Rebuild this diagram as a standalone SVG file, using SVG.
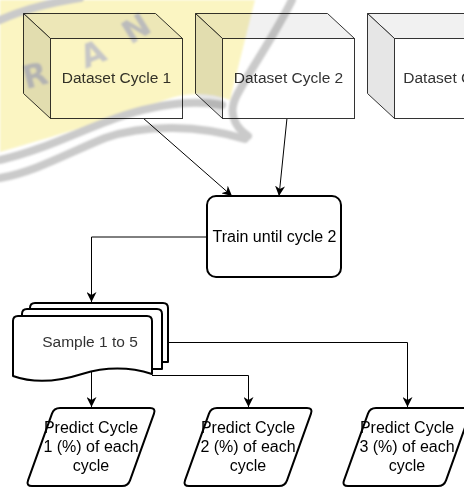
<svg xmlns="http://www.w3.org/2000/svg" width="464" height="488" viewBox="0 0 464 488">
  <defs>
    <style>
      .cube-front { fill: #ffffff; stroke: #333333; stroke-width: 1; }
      .cube-top { fill: #f1f1f1; stroke: #333333; stroke-width: 1; stroke-linejoin: round; }
      .cube-side { fill: #e6e6e6; stroke: #333333; stroke-width: 1; stroke-linejoin: round; }
      .shape { fill: #ffffff; stroke: #000000; stroke-width: 2; stroke-linejoin: round; }
      .sheet { fill: none; stroke: #000000; stroke-width: 2; stroke-linejoin: round; }
      .edge { fill: none; stroke: #000000; stroke-width: 1; }
      .label { font-family: "Liberation Sans", Arial, sans-serif; font-size: 16px; fill: #000000; text-anchor: middle; }
      .ds { font-size: 15.5px; fill: #333333; }
      .mark { mix-blend-mode: multiply; }
      .band { fill: none; stroke: #cacaca; stroke-width: 8; stroke-linecap: round; }
      .glyph { font-family: "DejaVu Sans", sans-serif; font-weight: bold; font-size: 32px; fill: #c6c6c6; text-anchor: middle; }
    </style>
    <marker id="arrow" viewBox="0 0 10 10" refX="10" refY="5" markerWidth="10" markerHeight="10" markerUnits="userSpaceOnUse" orient="auto">
      <path d="M0,0 L10,5 L0,10 L3,5 Z" fill="#000000"/>
    </marker>
    <filter id="soft" x="-10%" y="-10%" width="120%" height="120%">
      <feGaussianBlur stdDeviation="1.3"/>
    </filter>
    <path id="para" d="M-31,408 L59,408 Q65,408 62.97,413.65 L39.03,480.35 Q37,486 31,486 L-59,486 Q-65,486 -62.97,480.35 L-39.03,413.65 Q-37,408 -31,408 Z"/>
  </defs>

  <rect width="464" height="488" fill="#ffffff"/>

  <!-- connectors -->
  <g id="connectors">
    <path class="edge" d="M143,118 L232,196" marker-end="url(#arrow)"/>
    <path class="edge" d="M287,118 L279,196" marker-end="url(#arrow)"/>
    <path class="edge" d="M207,237 L91.5,237 L91.5,302" marker-end="url(#arrow)"/>
    <path class="edge" d="M168,342.5 L407.5,342.5 L407.5,407" marker-end="url(#arrow)"/>
    <path class="edge" d="M152,375.5 L248.5,375.5 L248.5,407" marker-end="url(#arrow)"/>
    <path class="edge" d="M91.5,372 L91.5,407" marker-end="url(#arrow)"/>
  </g>

  <!-- dataset cubes -->
  <g id="dataset1">
    <path class="cube-top" d="M23.5,13.5 L155.5,13.5 L182.5,38.5 L50.5,38.5 Z"/>
    <path class="cube-side" d="M23.5,13.5 L50.5,38.5 L50.5,118.5 L23.5,93.5 Z"/>
    <rect class="cube-front" x="50.5" y="38.5" width="132" height="80"/>
    <text class="label ds" x="116.5" y="83">Dataset Cycle 1</text>
  </g>
  <g id="dataset2" transform="translate(172,0)">
    <path class="cube-top" d="M23.5,13.5 L155.5,13.5 L182.5,38.5 L50.5,38.5 Z"/>
    <path class="cube-side" d="M23.5,13.5 L50.5,38.5 L50.5,118.5 L23.5,93.5 Z"/>
    <rect class="cube-front" x="50.5" y="38.5" width="132" height="80"/>
    <text class="label ds" x="116.5" y="83">Dataset Cycle 2</text>
  </g>
  <g id="dataset3" transform="translate(344,0)">
    <path class="cube-top" d="M23.5,13.5 L155.5,13.5 L182.5,38.5 L50.5,38.5 Z"/>
    <path class="cube-side" d="M23.5,13.5 L50.5,38.5 L50.5,118.5 L23.5,93.5 Z"/>
    <rect class="cube-front" x="50.5" y="38.5" width="132" height="80"/>
    <text class="label ds" x="114" y="83">Dataset Cycle 3</text>
  </g>

  <!-- training step -->
  <g id="train">
    <rect class="shape" x="207" y="196" width="134" height="81" rx="9"/>
    <text class="label" x="274.5" y="242">Train until cycle 2</text>
  </g>

  <!-- stacked samples -->
  <g id="samples">
    <path class="sheet" d="M30,309 L30,308 Q30,303 35,303 L163,303 Q168,303 168,308 L168,362 L162,362"/>
    <path class="sheet" d="M22,316 L22,314 Q22,309 27,309 L157,309 Q162,309 162,314 L162,369 L152,369"/>
    <path class="shape" d="M13,321 Q13,316 18,316 L147,316 Q152,316 152,321 L152,374 C130,367 105,367 82,374 C60,381 35,384 13,376 Z"/>
    <text class="label ds" x="90" y="347">Sample 1 to 5</text>
  </g>

  <!-- predictions -->
  <g id="predict1" transform="translate(91,0)">
    <use href="#para" class="shape"/>
    <text class="label" x="0" y="433">Predict Cycle</text>
    <text class="label" x="0" y="452">1 (%) of each</text>
    <text class="label" x="0" y="471">cycle</text>
  </g>
  <g id="predict2" transform="translate(248,0)">
    <use href="#para" class="shape"/>
    <text class="label" x="0" y="433">Predict Cycle</text>
    <text class="label" x="0" y="452">2 (%) of each</text>
    <text class="label" x="0" y="471">cycle</text>
  </g>
  <g id="predict3" transform="translate(407,0)">
    <use href="#para" class="shape"/>
    <text class="label" x="0" y="433">Predict Cycle</text>
    <text class="label" x="0" y="452">3 (%) of each</text>
    <text class="label" x="0" y="471">cycle</text>
  </g>

  <!-- emblem watermark over the top-left corner -->
  <g id="watermark" class="mark" filter="url(#soft)">
    <path d="M0,0 L255,0 C246,35 238,68 230,100 C210,92 185,92 165,100 C130,112 70,132 0,152 Z" fill="#fbf5c2"/>
    <path class="band" d="M0,160 C45,150 85,128 125,115 C160,104 195,100 222,105"/>
    <path class="band" d="M0,178 C35,172 70,152 105,138 C145,124 200,125 245,139"/>
    <path class="band" d="M292,0 C275,35 250,70 237,95 C229,110 232,125 248,136"/>
    <path class="band" d="M0,20 C22,10 48,3 80,-2"/>
    <text class="glyph" transform="translate(38,86) rotate(-15)">R</text>
    <text class="glyph" transform="translate(97,64) rotate(-22)">A</text>
    <text class="glyph" transform="translate(142,38) rotate(-32)">N</text>
  </g>
</svg>
